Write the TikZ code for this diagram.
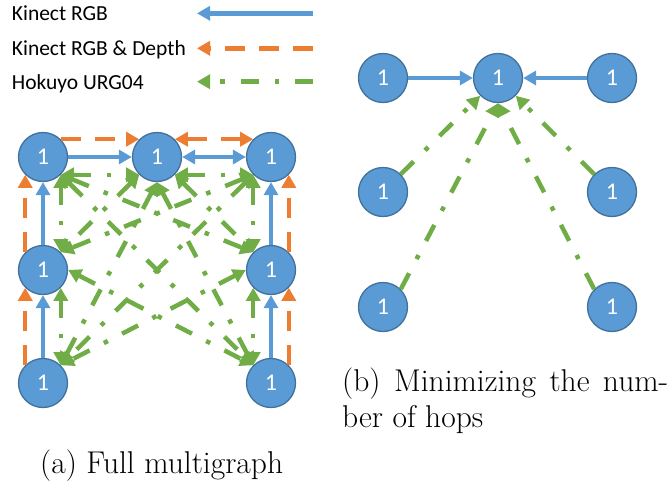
\documentclass[tikz,border=0pt]{standalone}
\usepackage{fontspec}
\newfontfamily\carlito{Carlito}
\usetikzlibrary{arrows.meta}
\definecolor{kblue}{HTML}{5B9BD5}
\definecolor{kborder}{HTML}{41719C}
\definecolor{korange}{HTML}{ED7D31}
\definecolor{kgreen}{HTML}{70AD47}
\tikzset{
  sensor/.style={circle, fill=kblue, draw=kborder, line width=1.3pt, minimum size=49pt,
    inner sep=0pt, text=white, font=\carlito\fontsize{24}{24}\selectfont},
  legendtext/.style={anchor=base west, inner sep=0pt, font=\carlito\fontsize{21.5}{21.5}\selectfont},
  captext/.style={anchor=base west, inner sep=0pt, font=\fontsize{31.5}{36}\selectfont},
  rgbline/.style={draw=kblue, line width=4.5pt},
  depthline/.style={draw=korange, line width=4.5pt, dash pattern=on 20pt off 14pt},
  hokline/.style={draw=kgreen, line width=4.5pt, dash pattern=on 18pt off 16pt on 4.5pt off 16pt},
  >={Triangle[length=13pt,width=14pt]}
}
\begin{document}
\begin{tikzpicture}[x=1pt,y=-1pt]
\useasboundingbox (0,0) rectangle (670,485);

% legend
\node[legendtext] (lt1) at (11.7,20.7) {Kinect RGB};
\node[legendtext] (lt2) at (11.7,55.2) {Kinect RGB \& Depth};
\node[legendtext] (lt3) at (11.7,89.7) {Hokuyo URG04};
\coordinate (l1s) at (313,13.3); \coordinate (l1e) at (197,13.3);
\coordinate (l2s) at (313,48.3); \coordinate (l2e) at (197,48.3);
\coordinate (l3s) at (313,81.7); \coordinate (l3e) at (197,81.7);
\draw[rgbline,->] (l1s) -- (l1e);
\draw[depthline,->] (l2s) -- (l2e);
\draw[hokline,->] (l3s) -- (l3e);

% (a) full multigraph
\node[sensor] (aTL) at (43,157) {1};
\node[sensor] (aTM) at (157,157) {1};
\node[sensor] (aTR) at (271,157) {1};
\node[sensor] (aML) at (43,270) {1};
\node[sensor] (aMR) at (271,270) {1};
\node[sensor] (aBL) at (43,383) {1};
\node[sensor] (aBR) at (271,383) {1};

\draw[rgbline,->] (aTL.east) -- (aTM.west);
\draw[rgbline,<->] (aTM.east) -- (aTR.west);
\draw[rgbline,->] (aML.north) -- (aTL.south);
\draw[rgbline,->] (aBL.north) -- (aML.south);
\draw[rgbline,->] (aMR.north) -- (aTR.south);
\draw[rgbline,->] (aBR.north) -- (aMR.south);

\draw[depthline,->] (aTL.45) -- (aTM.135);
\draw[depthline,<->] (aTM.45) -- (aTR.135);
\draw[depthline,->] (aML.135) -- (aTL.225);
\draw[depthline,->] (aBL.135) -- (aML.225);
\draw[depthline,->] (aMR.45) -- (aTR.-45);
\draw[depthline,->] (aBR.45) -- (aMR.-45);

\draw[hokline,<->] (aTL.-45) -- (aTM.-135);
\draw[hokline,<->] (aTM.-45) -- (aTR.-135);
\draw[hokline,<->] (aTL.-45) -- (aML.45);
\draw[hokline,<->] (aML.-45) -- (aBL.45);
\draw[hokline,<->] (aTR.-135) -- (aMR.135);
\draw[hokline,<->] (aMR.-135) -- (aBR.135);
\draw[hokline,<->] (aTL.-45) -- (aMR.135);
\draw[hokline,<->] (aTL.-45) -- (aBR.135);
\draw[hokline,<->] (aTR.-135) -- (aML.45);
\draw[hokline,<->] (aTR.-135) -- (aBL.45);
\draw[hokline,<->] (aTM.-135) -- (aML.45);
\draw[hokline,<->] (aTM.-45) -- (aMR.135);
\draw[hokline,<->] (aTM.south) -- (aBL.45);
\draw[hokline,<->] (aTM.south) -- (aBR.135);
\draw[hokline,<->] (aML.east) -- (aBR.135);
\draw[hokline,<->] (aMR.west) -- (aBL.45);

% (b) minimizing hops
\node[sensor] (bTL) at (383,78) {1};
\node[sensor] (bTM) at (498,78) {1};
\node[sensor] (bTR) at (612,78) {1};
\node[sensor] (bML) at (383,192) {1};
\node[sensor] (bMR) at (612,192) {1};
\node[sensor] (bBL) at (383,307) {1};
\node[sensor] (bBR) at (612,307) {1};

\draw[rgbline,->] (bTL.east) -- (bTM.west);
\draw[rgbline,->] (bTR.west) -- (bTM.east);
\draw[hokline,->] (bML.45) -- (bTM.-135);
\draw[hokline,->] (bBL.45) -- (bTM.south);
\draw[hokline,->] (bMR.135) -- (bTM.-45);
\draw[hokline,->] (bBR.135) -- (bTM.south);

% captions
\node[captext] (capb1) at (342,391) {\hbox to 326pt{(b)\hfill Minimizing\hfill the\hfill num-}};
\node[captext] (capb2) at (342,427) {ber of hops};
\node[captext] (capa) at (40,473) {(a) Full multigraph};
\end{tikzpicture}
\end{document}
